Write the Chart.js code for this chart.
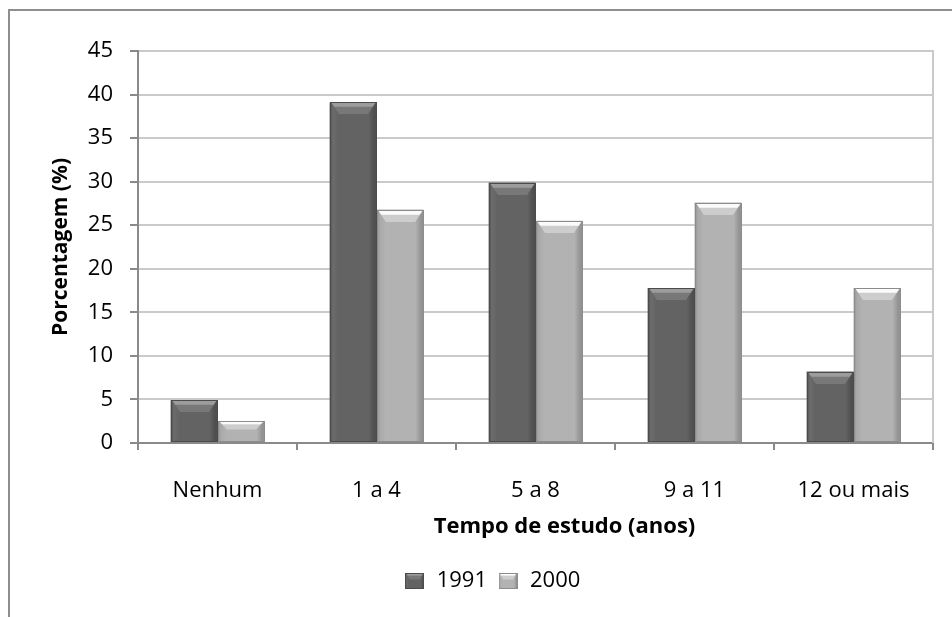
<!DOCTYPE html>
<html>
<head>
<meta charset="utf-8">
<script src="https://cdn.jsdelivr.net/npm/chart.js@4.4.1/dist/chart.umd.min.js"></script>
<style>
  html, body { margin:0; padding:0; background:#fff; }
  #wrap { position:relative; width:952px; height:617px; overflow:hidden; }
  /* outer chart frame: only left and top edges are visible */
  #frame { position:absolute; left:8px; top:9px; width:1000px; height:700px;
           border-left:2px solid #8e8e8e; border-top:2px solid #8e8e8e; }
  #chart { position:absolute; left:0; top:0; }
</style>
</head>
<body>
<div id="wrap">
  <div id="frame"></div>
  <canvas id="chart" width="952" height="617"></canvas>
</div>
<script>
'use strict';

// ===== data =====
const CATEGORIES = ['Nenhum', '1 a 4', '5 a 8', '9 a 11', '12 ou mais'];
const SERIES_NAMES = ['1991', '2000'];
const VALUES_1991 = [4.9, 39.1, 29.9, 17.8, 8.2];
const VALUES_2000 = [2.5, 26.8, 25.5, 27.6, 17.8];
const Y_MIN = 0, Y_MAX = 45, Y_STEP = 5;
const X_TITLE = 'Tempo de estudo (anos)';
const Y_TITLE = 'Porcentagem (%)';

// ===== styles =====
const FONT = '"Open Sans", Lato, sans-serif';
const FONT_SIZE = 22;
const AXIS_GRAY = '#8a8a8a';
const GRID_GRAY = '#cacaca';

// bevel palettes (dark = 1991, light = 2000)
const PALETTES = [
  { outline:'#4b4b4b', left:'#6c6c6c', body:'#636363', right:'#4f4f4f', bevelTop:'#9c9c9c', bevelBot:'#787878' },
  { outline:'#8c8c8c', left:'#a9a9a9', body:'#b2b2b2', right:'#939393', bevelTop:'#fbfbfb', bevelBot:'#cdcdcd' }
];

function drawBevelBar(ctx, l, t, w, h, p){
  if(h <= 0 || w <= 0) return;
  const r = l + w;
  const side = Math.min(8, w * 0.17);
  const bv = Math.min(12, h * 0.4);

  // body with soft edge shading
  const g = ctx.createLinearGradient(l, 0, r, 0);
  g.addColorStop(0, p.right);
  g.addColorStop(0.06, p.left);
  g.addColorStop(0.18, p.body);
  g.addColorStop(0.82, p.body);
  g.addColorStop(0.94, p.right);
  g.addColorStop(1, p.right);
  ctx.fillStyle = g;
  ctx.fillRect(l, t, w, h);

  // top bevel (trapezoid)
  const tg = ctx.createLinearGradient(0, t, 0, t + bv);
  tg.addColorStop(0, p.bevelTop);
  tg.addColorStop(0.35, p.bevelTop);
  tg.addColorStop(0.45, p.bevelBot);
  tg.addColorStop(1, p.bevelBot);
  ctx.beginPath();
  ctx.moveTo(l + 1, t);
  ctx.lineTo(r - 1, t);
  ctx.lineTo(r - 1 - side, t + bv);
  ctx.lineTo(l + 1 + side, t + bv);
  ctx.closePath();
  ctx.fillStyle = tg;
  ctx.fill();

  ctx.strokeStyle = p.outline;
  ctx.lineWidth = 1;
  ctx.strokeRect(l + 0.5, t + 0.5, w - 1, h - 1);
}

// small beveled squares for the legend
function legendSwatch(p){
  const c = document.createElement('canvas');
  c.width = 19; c.height = 16;
  drawBevelBar(c.getContext('2d'), 0, 0, 19, 16, p);
  return c;
}
const SWATCHES = PALETTES.map(legendSwatch);

// paints every bar with its bevel, using the element geometry from the scales
const bevelBars = {
  id: 'bevelBars',
  afterDatasetsDraw(chart){
    const ctx = chart.ctx;
    chart.data.datasets.forEach((ds, i) => {
      const meta = chart.getDatasetMeta(i);
      meta.data.forEach(bar => {
        const { x, y, base, width } = bar.getProps(['x','y','base','width'], true);
        const l = Math.round(x - width / 2);
        const w = Math.round(width);
        const t = Math.round(y);
        drawBevelBar(ctx, l, t, w, Math.round(base) - t, PALETTES[i]);
      });
    });
  }
};

// right edge of the plot area
const plotEdge = {
  id: 'plotEdge',
  beforeDatasetsDraw(chart){
    const { ctx, chartArea:a } = chart;
    ctx.save();
    ctx.strokeStyle = GRID_GRAY;
    ctx.lineWidth = 2;
    ctx.beginPath();
    ctx.moveTo(a.right, a.top - 1);
    ctx.lineTo(a.right, a.bottom);
    ctx.stroke();
    ctx.restore();
  }
};

// x axis title sits a little right of the plot centre
const xTitle = {
  id: 'xTitle',
  afterDraw(chart){
    const s = chart.scales.x;
    const ctx = chart.ctx;
    ctx.save();
    ctx.font = `bold ${FONT_SIZE}px ${FONT}`;
    ctx.fillStyle = '#000';
    ctx.textAlign = 'center';
    ctx.textBaseline = 'middle';
    ctx.fillText(X_TITLE, (s.left + s.right) / 2 + 29, s.bottom - 33);
    ctx.restore();
  }
};

const chart = new Chart(document.getElementById('chart'), {
  type: 'bar',
  data: {
    labels: CATEGORIES,
    datasets: [
      { label: SERIES_NAMES[0], data: VALUES_1991, backgroundColor: PALETTES[0].body },
      { label: SERIES_NAMES[1], data: VALUES_2000, backgroundColor: PALETTES[1].body }
    ]
  },
  options: {
    responsive: false,
    animation: false,
    categoryPercentage: 0.59,
    barPercentage: 1,
    layout: { padding: { left: 51, right: 19, top: 51, bottom: 15 } },
    plugins: {
      tooltip: { enabled: false },
      legend: {
        position: 'bottom',
        labels: {
          usePointStyle: true,
          color: '#000',
          font: { family: FONT, size: FONT_SIZE },
          padding: 10,
          generateLabels: (c) => c.data.datasets.map((ds, i) => ({
            text: ds.label,
            pointStyle: SWATCHES[i],
            datasetIndex: i,
            fontColor: '#000',
            lineWidth: 0,
            hidden: false
          }))
        }
      }
    },
    scales: {
      x: {
        grid: { drawOnChartArea: false, drawTicks: true, tickLength: 7, color: AXIS_GRAY, lineWidth: 2, offset: true },
        border: { color: AXIS_GRAY, width: 2 },
        ticks: { color: '#000', font: { family: FONT, size: FONT_SIZE }, padding: 28, maxRotation: 0 },
        title: { display: false },
        afterFit: (s) => { s.height = 117; }
      },
      y: {
        min: Y_MIN, max: Y_MAX,
        ticks: { stepSize: Y_STEP, color: '#000', font: { family: FONT, size: FONT_SIZE }, padding: 17 },
        grid: { color: GRID_GRAY, lineWidth: 2, tickColor: AXIS_GRAY, tickLength: 8, tickWidth: 2 },
        border: { color: AXIS_GRAY, width: 2 },
        title: {
          display: true, text: Y_TITLE, color: '#000',
          font: { family: FONT, size: 21, weight: 'bold' }, padding: { top: -3, bottom: 0 }
        },
        afterFit: (s) => { s.width = 87; }
      }
    }
  },
  plugins: [plotEdge, bevelBars, xTitle]
});
</script>
</body>
</html>
